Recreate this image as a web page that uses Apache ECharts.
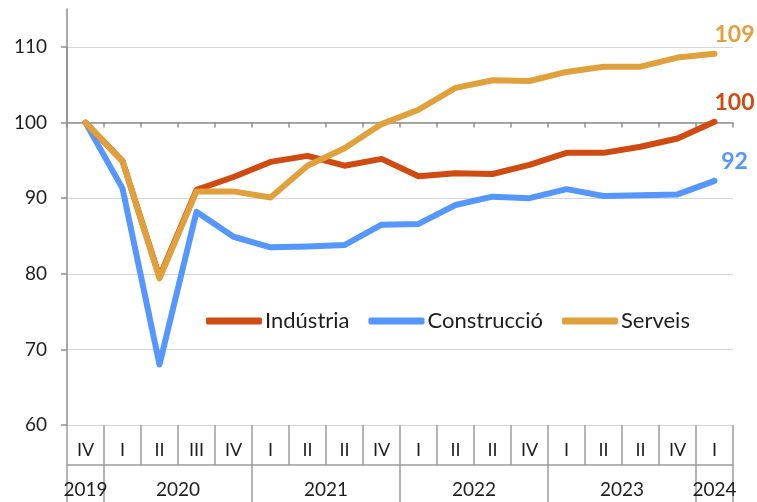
<!DOCTYPE html>
<html>
<head>
<meta charset="utf-8">
<script src="https://cdn.jsdelivr.net/npm/echarts@6/dist/echarts.min.js"></script>
<style>
  html, body { margin: 0; padding: 0; background: #ffffff; }
  #chart { width: 757px; height: 502px; }
</style>
</head>
<body>
<div id="chart"></div>
<script>
const quarters = ['IV','I','II','III','IV','I','II','II','IV','I','II','II','IV','I','II','II','IV','I'];
const quarterYears = ['2019','2020','2020','2020','2020','2021','2021','2021','2021','2022','2022','2022','2022','2023','2023','2023','2023','2024'];
const yTicks = [60, 70, 80, 90, 100, 110];

const seriesNames = ['Indústria', 'Construcció', 'Serveis'];
const industria   = [100, 94.9, 79.6, 91.1, 92.8, 94.8, 95.6, 94.3, 95.2, 92.9, 93.3, 93.2, 94.4, 96.0, 96.0, 96.8, 97.9, 100.1];
const construccio = [100, 91.3, 68.0, 88.2, 84.9, 83.5, 83.6, 83.8, 86.5, 86.6, 89.1, 90.2, 90.0, 91.2, 90.3, 90.4, 90.5, 92.3];
const serveis     = [100, 94.9, 79.4, 90.9, 90.9, 90.1, 94.3, 96.6, 99.8, 101.7, 104.6, 105.6, 105.5, 106.7, 107.4, 107.4, 108.6, 109.1];

const colors = { 'Indústria': '#d04b12', 'Construcció': '#5596ff', 'Serveis': '#e0a13c' };
const FONT = 'Lato';
const AXIS_GRAY = '#8f8f8f';
const GRID_GRAY = '#d6d6d6';
const CELL_GRAY = '#9c9c9c';

// year label positions: centre of each year's quarters (category index units)
const yearPos = {};
(function () {
  const acc = {};
  quarterYears.forEach((y, i) => { (acc[y] = acc[y] || []).push(i); });
  Object.keys(acc).forEach(y => {
    const idx = acc[y];
    const c = idx.reduce((a, b) => a + b, 0) / idx.length;
    yearPos[String(c)] = y;
  });
})();
const yearStart = quarterYears.map((y, i) => i === 0 || y !== quarterYears[i - 1]);

const L = 67, R = 24;
const mainTop = 47, mainBottom = 77;
const mainH = 502 - mainTop - mainBottom;
const yMin = yTicks[0], yMax = yTicks[yTicks.length - 1];
const y100px = mainTop + mainH * (yMax - 100) / (yMax - yMin);

const chart = echarts.init(document.getElementById('chart'), null, { renderer: 'canvas' });

function lineSeries(name, data) {
  return {
    name: name,
    type: 'line',
    xAxisIndex: 0,
    yAxisIndex: 0,
    data: data,
    symbol: 'none',
    clip: false,
    lineStyle: { color: colors[name], width: 6, cap: 'round', join: 'round' },
    itemStyle: { color: colors[name] },
    endLabel: {
      show: true,
      align: 'center',
      offset: [12, -19],
      color: colors[name],
      fontFamily: FONT,
      fontWeight: 'bold',
      fontSize: 23,
      formatter: p => String(Math.round(p.value))
    },
    emphasis: { disabled: true },
    animation: false
  };
}

const option = {
  backgroundColor: '#ffffff',
  animation: false,
  textStyle: { fontFamily: FONT },
  grid: [
    { left: L, right: R, top: mainTop, bottom: mainBottom },             // 0 main plot
    { left: L, right: R, top: 425, height: 40 },                           // 1 quarter row
    { left: L, right: R, top: 465, bottom: 0 },                            // 2 year row
    { left: L, right: R, top: 9, height: y100px - 9 }                      // 3 axis at 100 + axis extension
  ],
  legend: {
    data: seriesNames,
    left: 201,
    top: 305,
    itemWidth: 56,
    itemHeight: 7,
    itemGap: 19,
    icon: 'roundRect',
    textStyle: { fontFamily: FONT, fontSize: 22, color: '#1e1e1e', padding: [0, 0, 0, -2] },
    selectedMode: false
  },
  xAxis: [
    { gridIndex: 0, type: 'category', data: quarters, boundaryGap: true,
      axisLine: { show: false }, axisTick: { show: false }, axisLabel: { show: false }, splitLine: { show: false } },
    { gridIndex: 1, type: 'category', data: quarters, boundaryGap: true, position: 'top',
      axisLine: { show: true, lineStyle: { color: CELL_GRAY, width: 1.5 } },
      axisTick: { show: false },
      splitLine: { show: true, interval: 0, lineStyle: { color: CELL_GRAY, width: 1.5 } },
      axisLabel: { show: true, inside: true, interval: 0, margin: 25, verticalAlign: 'middle',
        fontFamily: FONT, fontSize: 18, color: '#1e1e1e' } },
    { gridIndex: 2, type: 'category', data: quarterYears, boundaryGap: true, position: 'bottom',
      axisLine: { show: false }, axisTick: { show: false }, axisLabel: { show: false },
      splitLine: { show: true, interval: (i) => yearStart[i] === true, lineStyle: { color: CELL_GRAY, width: 1.5 } } },
    { gridIndex: 2, type: 'value', min: -0.5, max: quarters.length - 0.5, interval: 0.5, position: 'top',
      axisLine: { show: false }, axisTick: { show: false }, splitLine: { show: false },
      axisLabel: { show: true, inside: true, margin: 25, verticalAlign: 'middle', showMinLabel: true, showMaxLabel: true,
        fontFamily: FONT, fontSize: 19, color: '#1e1e1e',
        formatter: v => yearPos[String(v)] || '' } },
    { gridIndex: 3, type: 'category', data: quarters, boundaryGap: true, position: 'bottom',
      axisLine: { show: true, lineStyle: { color: AXIS_GRAY, width: 1.5 } },
      axisTick: { show: true, interval: 0, length: 5, lineStyle: { color: AXIS_GRAY, width: 1.5 } },
      axisLabel: { show: false }, splitLine: { show: false } }
  ],
  yAxis: [
    { gridIndex: 0, type: 'value', min: yMin, max: yMax, interval: 10,
      axisLine: { show: true, lineStyle: { color: AXIS_GRAY, width: 1.5 } },
      axisTick: { show: true, length: 6, lineStyle: { color: AXIS_GRAY, width: 1.5 } },
      splitLine: { show: true, lineStyle: { color: GRID_GRAY, width: 1.2 } },
      axisLabel: { margin: 20, fontFamily: FONT, fontSize: 19, color: '#1e1e1e' } },
    { gridIndex: 1, type: 'value', show: false },
    { gridIndex: 2, type: 'value', show: false },
    { gridIndex: 3, type: 'value', min: 0, max: 1,
      axisLine: { show: true, lineStyle: { color: AXIS_GRAY, width: 1.5 } },
      axisTick: { show: false }, axisLabel: { show: false }, splitLine: { show: false } }
  ],
  series: [
    lineSeries('Construcció', construccio),
    lineSeries('Indústria', industria),
    lineSeries('Serveis', serveis)
  ]
};

chart.setOption(option);
</script>
</body>
</html>
